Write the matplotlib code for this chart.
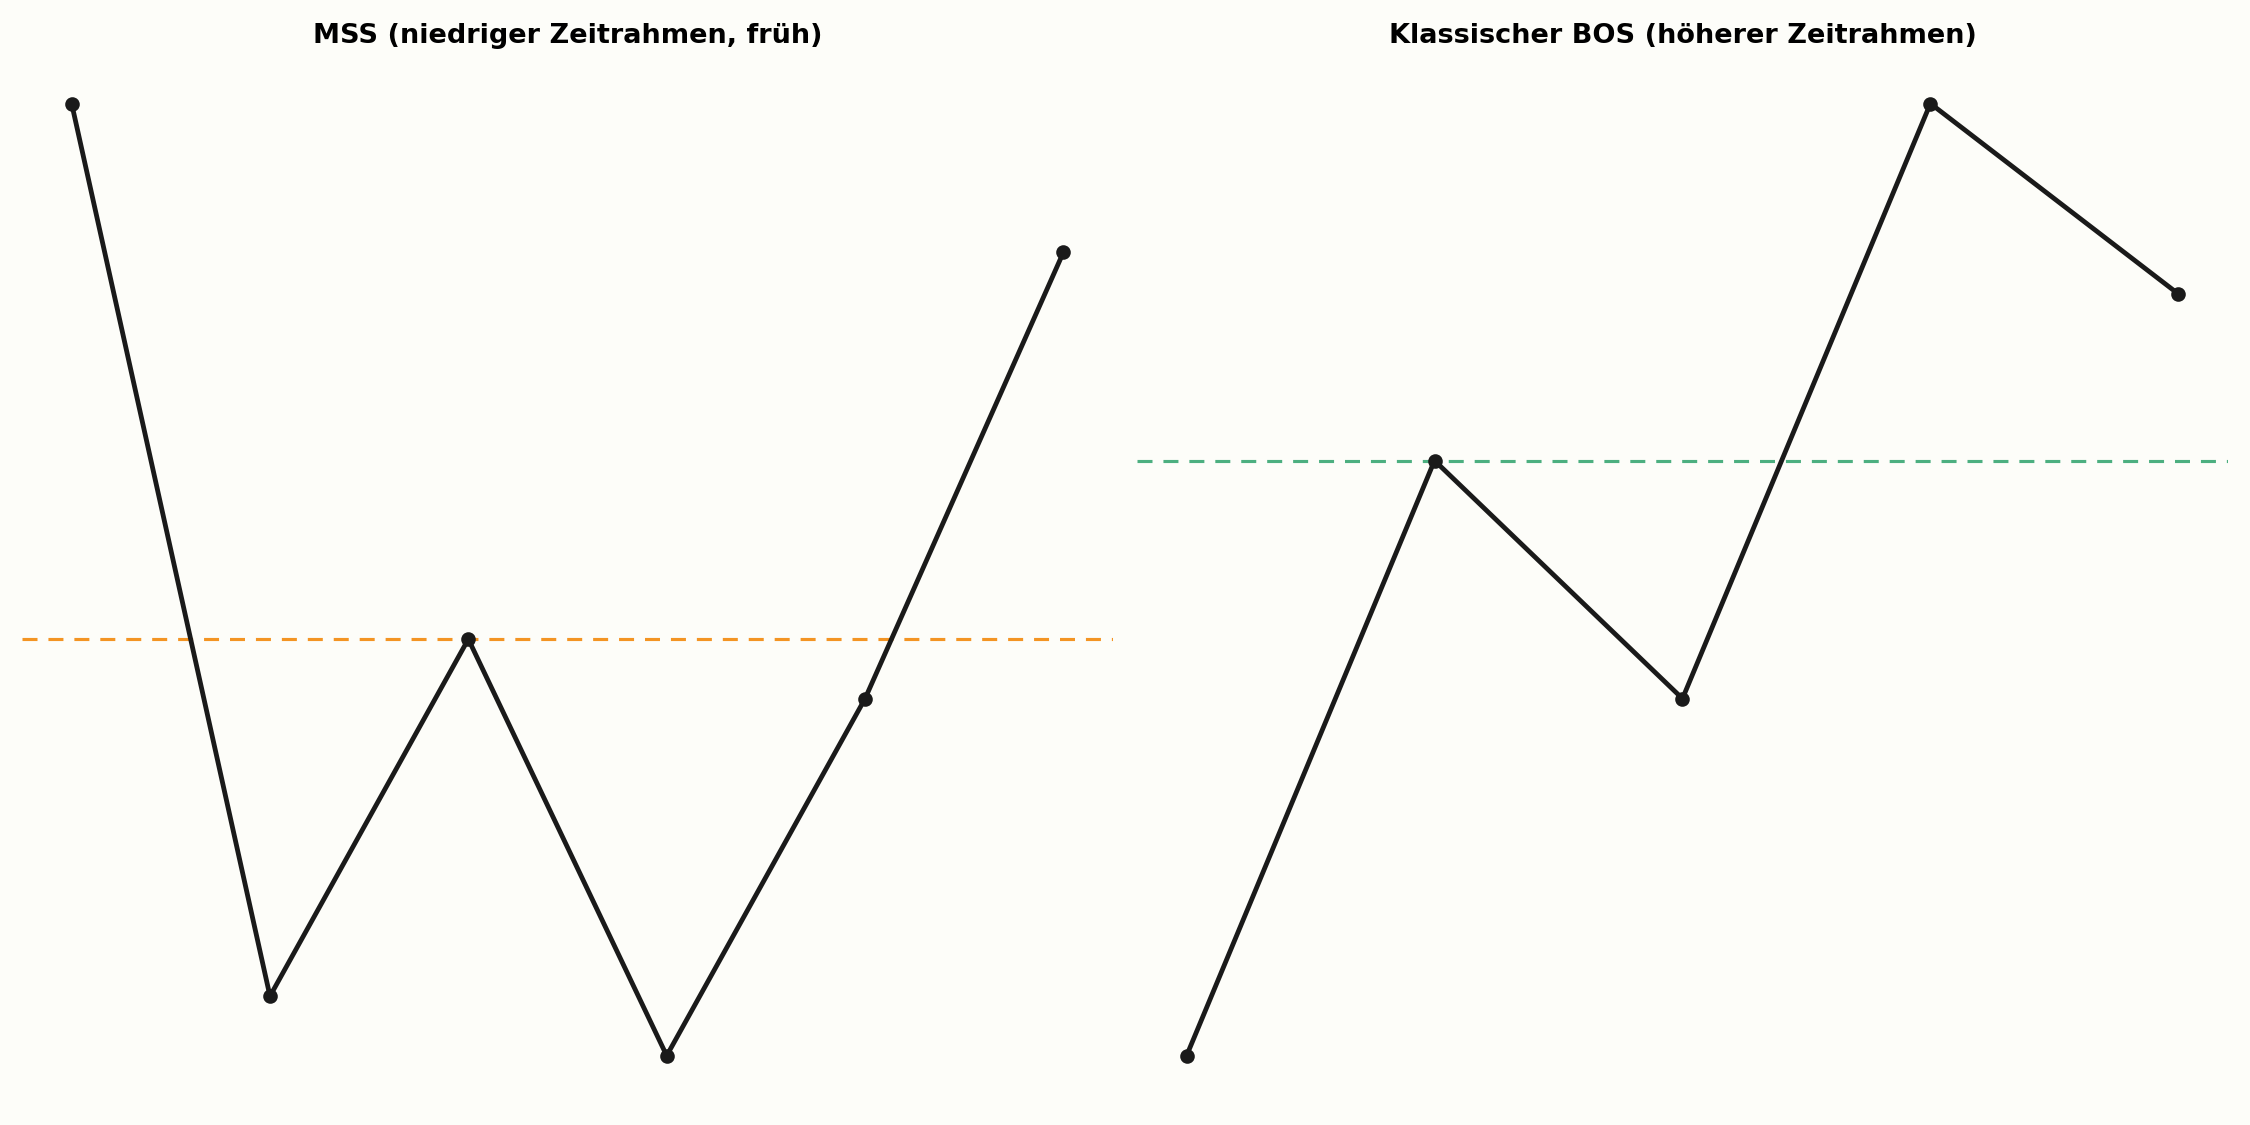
import numpy as np
import matplotlib
matplotlib.use("Agg")
import matplotlib.pyplot as plt

# left panel: MSS on lower timeframe
mss_x = [0, 1, 2, 3, 4, 5]
mss_y = [110, 95, 101, 94, 100, 107.5]
mss_level = 101

# right panel: classic BOS on higher timeframe
bos_x = [0, 1, 2, 3, 4]
bos_y = [100, 105, 103, 108, 106.4]
bos_level = 105

titles = ["MSS (niedriger Zeitrahmen, früh)", "Klassischer BOS (höherer Zeitrahmen)"]

bg = "#fdfdf9"
line_col = "#1a1a1a"
level_cols = ["#f39423", "#4caf80"]

fig, axes = plt.subplots(1, 2, figsize=(15, 7.5), dpi=150, facecolor=bg)
fig.subplots_adjust(left=0.0098, right=0.9902, top=0.9503, bottom=0.0193, wspace=0.022)

panels = [(mss_x, mss_y, mss_level), (bos_x, bos_y, bos_level)]
for ax, (x, y, lvl), title, col in zip(axes, panels, titles, level_cols):
    ax.set_facecolor(bg)
    ax.axhline(lvl, color=col, lw=1.5, linestyle=(0, (4.8, 3.5)), zorder=1)
    ax.plot(x, y, color=line_col, lw=2.3, marker="o", markersize=6, zorder=2)
    ax.set_title(title, fontsize=13, fontweight="bold", pad=6)
    ax.axis("off")

fig.savefig("out.png", dpi=150, facecolor=bg)
